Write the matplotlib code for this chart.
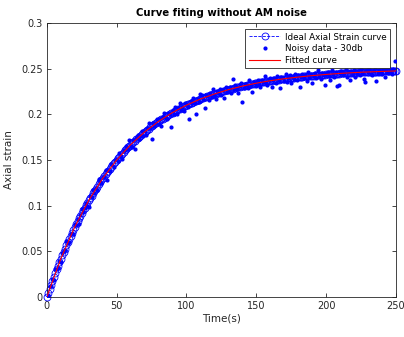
import matplotlib
matplotlib.use('Agg')
import matplotlib.pyplot as plt

# Ideal curve, sampled every 1 s
t_ideal = list(range(0, 251))
ideal_strain = [
    0.0000, 0.0045, 0.0090, 0.0134, 0.0177, 0.0219, 0.0260, 0.0301, 0.0341, 0.0380,
    0.0418, 0.0456, 0.0493, 0.0529, 0.0565, 0.0600, 0.0635, 0.0669, 0.0702, 0.0735,
    0.0767, 0.0798, 0.0829, 0.0859, 0.0889, 0.0918, 0.0947, 0.0975, 0.1003, 0.1030,
    0.1057, 0.1083, 0.1109, 0.1134, 0.1159, 0.1183, 0.1207, 0.1231, 0.1254, 0.1276,
    0.1298, 0.1320, 0.1342, 0.1363, 0.1383, 0.1403, 0.1423, 0.1443, 0.1462, 0.1481,
    0.1499, 0.1517, 0.1535, 0.1553, 0.1570, 0.1587, 0.1604, 0.1620, 0.1636, 0.1652,
    0.1667, 0.1682, 0.1697, 0.1712, 0.1726, 0.1740, 0.1754, 0.1767, 0.1780, 0.1793,
    0.1806, 0.1819, 0.1831, 0.1843, 0.1855, 0.1867, 0.1879, 0.1890, 0.1901, 0.1912,
    0.1922, 0.1933, 0.1943, 0.1953, 0.1963, 0.1973, 0.1983, 0.1992, 0.2001, 0.2010,
    0.2019, 0.2028, 0.2036, 0.2045, 0.2053, 0.2061, 0.2069, 0.2077, 0.2085, 0.2092,
    0.2100, 0.2107, 0.2114, 0.2121, 0.2128, 0.2135, 0.2141, 0.2148, 0.2154, 0.2161,
    0.2167, 0.2173, 0.2179, 0.2184, 0.2190, 0.2196, 0.2201, 0.2207, 0.2212, 0.2217,
    0.2222, 0.2227, 0.2232, 0.2237, 0.2242, 0.2246, 0.2251, 0.2256, 0.2260, 0.2264,
    0.2269, 0.2273, 0.2277, 0.2281, 0.2285, 0.2289, 0.2293, 0.2296, 0.2300, 0.2304,
    0.2308, 0.2311, 0.2314, 0.2318, 0.2321, 0.2324, 0.2328, 0.2331, 0.2334, 0.2337,
    0.2340, 0.2343, 0.2346, 0.2348, 0.2351, 0.2354, 0.2356, 0.2359, 0.2362, 0.2364,
    0.2367, 0.2369, 0.2371, 0.2374, 0.2376, 0.2378, 0.2380, 0.2383, 0.2385, 0.2387,
    0.2389, 0.2391, 0.2393, 0.2395, 0.2397, 0.2399, 0.2400, 0.2402, 0.2404, 0.2406,
    0.2407, 0.2409, 0.2411, 0.2412, 0.2414, 0.2416, 0.2417, 0.2419, 0.2420, 0.2422,
    0.2423, 0.2424, 0.2426, 0.2427, 0.2428, 0.2430, 0.2431, 0.2432, 0.2433, 0.2435,
    0.2436, 0.2437, 0.2438, 0.2439, 0.2440, 0.2441, 0.2443, 0.2444, 0.2445, 0.2446,
    0.2447, 0.2448, 0.2449, 0.2450, 0.2450, 0.2451, 0.2452, 0.2453, 0.2454, 0.2455,
    0.2456, 0.2456, 0.2457, 0.2458, 0.2459, 0.2460, 0.2460, 0.2461, 0.2462, 0.2462,
    0.2463, 0.2464, 0.2464, 0.2465, 0.2466, 0.2466, 0.2467, 0.2467, 0.2468, 0.2468,
    0.2469, 0.2469, 0.2470, 0.2470, 0.2471, 0.2471, 0.2472, 0.2472, 0.2473, 0.2473,
    0.2474,
]

# Noisy samples, every 1 s
t_noisy = list(range(0, 251))
noisy_strain = [
    0.0010, 0.0025, 0.0120, 0.0124, 0.0197, 0.0189, 0.0300, 0.0301, 0.0321, 0.0390,
    0.0378, 0.0486, 0.0503, 0.0509, 0.0615, 0.0590, 0.0605, 0.0689, 0.0702, 0.0685,
    0.0797, 0.0788, 0.0849, 0.0799, 0.0899, 0.0958, 0.0927, 0.0975, 0.1033, 0.1000,
    0.0987, 0.1103, 0.1099, 0.1174, 0.1139, 0.1193, 0.1167, 0.1291, 0.1254, 0.1246,
    0.1318, 0.1310, 0.1392, 0.1283, 0.1393, 0.1383, 0.1453, 0.1443, 0.1422, 0.1501,
    0.1509, 0.1487, 0.1575, 0.1543, 0.1510, 0.1607, 0.1604, 0.1650, 0.1616, 0.1722,
    0.1657, 0.1642, 0.1717, 0.1622, 0.1736, 0.1770, 0.1734, 0.1767, 0.1820, 0.1763,
    0.1816, 0.1769, 0.1851, 0.1903, 0.1845, 0.1727, 0.1909, 0.1870, 0.1901, 0.1952,
    0.1892, 0.1943, 0.1873, 0.1973, 0.2013, 0.1963, 0.1953, 0.2012, 0.2001, 0.1860,
    0.2049, 0.2008, 0.2076, 0.2005, 0.2063, 0.2121, 0.2049, 0.2077, 0.2035, 0.2122,
    0.2110, 0.2077, 0.1944, 0.2141, 0.2118, 0.2175, 0.2121, 0.1998, 0.2164, 0.2131,
    0.2217, 0.2213, 0.2169, 0.2064, 0.2210, 0.2196, 0.2161, 0.2237, 0.2192, 0.2277,
    0.2212, 0.2167, 0.2252, 0.2237, 0.2272, 0.2216, 0.2261, 0.2176, 0.2300, 0.2244,
    0.2269, 0.2293, 0.2237, 0.2391, 0.2275, 0.2319, 0.2273, 0.2236, 0.2310, 0.2344,
    0.2138, 0.2291, 0.2334, 0.2318, 0.2291, 0.2374, 0.2318, 0.2241, 0.2354, 0.2347,
    0.2310, 0.2373, 0.2336, 0.2298, 0.2371, 0.2354, 0.2416, 0.2339, 0.2322, 0.2374,
    0.2397, 0.2299, 0.2371, 0.2394, 0.2346, 0.2418, 0.2370, 0.2283, 0.2405, 0.2397,
    0.2369, 0.2441, 0.2353, 0.2395, 0.2427, 0.2339, 0.2410, 0.2382, 0.2444, 0.2376,
    0.2427, 0.2299, 0.2411, 0.2442, 0.2394, 0.2426, 0.2367, 0.2459, 0.2410, 0.2442,
    0.2343, 0.2424, 0.2456, 0.2397, 0.2488, 0.2420, 0.2391, 0.2452, 0.2433, 0.2315,
    0.2446, 0.2467, 0.2418, 0.2379, 0.2480, 0.2441, 0.2413, 0.2464, 0.2305, 0.2316,
    0.2457, 0.2478, 0.2429, 0.2450, 0.2500, 0.2411, 0.2462, 0.2373, 0.2474, 0.2445,
    0.2486, 0.2406, 0.2457, 0.2478, 0.2429, 0.2500, 0.2450, 0.2391, 0.2352, 0.2482,
    0.2463, 0.2494, 0.2444, 0.2425, 0.2476, 0.2516, 0.2367, 0.2457, 0.2488, 0.2468,
    0.2439, 0.2499, 0.2410, 0.2480, 0.2451, 0.2511, 0.2472, 0.2442, 0.2493, 0.2583,
    0.2463,
]

# Fitted curve, every 10 s
t_fit = list(range(0, 251, 10))
fit_strain = [
    0.0000, 0.0418, 0.0767, 0.1057, 0.1298, 0.1499, 0.1667, 0.1806, 0.1922, 0.2019,
    0.2100, 0.2167, 0.2222, 0.2269, 0.2308, 0.2340, 0.2367, 0.2389, 0.2407, 0.2423,
    0.2436, 0.2447, 0.2456, 0.2463, 0.2469, 0.2474,
]

axis_col = '#262626'

fig = plt.figure(figsize=(4.04, 3.37), dpi=100)
ax = fig.add_axes([0.116, 0.119, 0.864, 0.813])

ax.plot(t_ideal, ideal_strain, '--o', color='blue', mfc='none', ms=5, mew=0.6,
        lw=0.6, label='Ideal Axial Strain curve', clip_on=False, zorder=2)
ax.plot(t_noisy, noisy_strain, '.', color='blue', ms=4, label='Noisy data - 30db', zorder=3)
ax.plot(t_fit, fit_strain, '-', color='red', lw=0.8, label='Fitted curve', zorder=4)

ax.set_xlim(0, 250)
ax.set_ylim(0, 0.3)
ax.set_xticks([0, 50, 100, 150, 200, 250])
ax.set_yticks([0, 0.05, 0.1, 0.15, 0.2, 0.25, 0.3])
ax.set_yticklabels(['0', '0.05', '0.1', '0.15', '0.2', '0.25', '0.3'])
ax.tick_params(direction='in', length=3, width=0.6, labelsize=7, colors=axis_col,
               top=True, right=True, pad=3)
for s in ax.spines.values():
    s.set_color(axis_col)
    s.set_linewidth(0.6)

ax.set_title('Curve fiting without AM noise', fontsize=7.3, fontweight='bold', pad=5)
ax.set_xlabel('Time(s)', fontsize=7.5, color=axis_col, labelpad=2)
ax.set_ylabel('Axial strain', fontsize=7.5, color=axis_col, labelpad=5)

leg = ax.legend(loc='upper right', fontsize=6.3, fancybox=False, framealpha=1,
                edgecolor=axis_col, borderpad=0.4, labelspacing=0.3, handlelength=3.6,
                handletextpad=0.5, borderaxespad=0.7)
leg.get_frame().set_linewidth(0.6)

fig.savefig('out.png', dpi=100)
